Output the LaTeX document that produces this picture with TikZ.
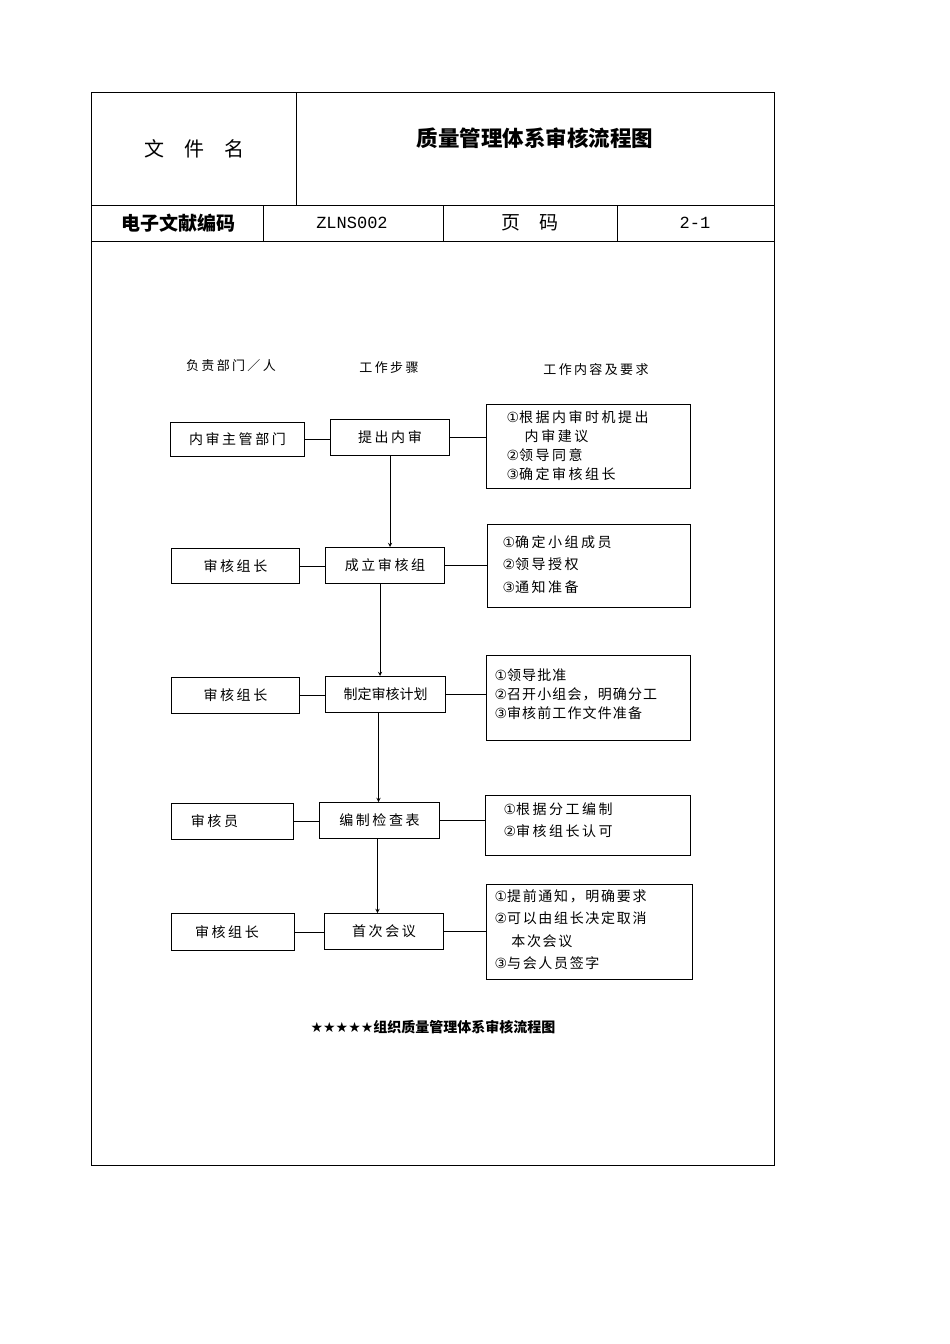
\documentclass[tikz,border=0pt]{standalone}
\usepackage{fontspec}
\setmainfont{Noto Sans CJK SC}
\newfontfamily\djv{DejaVu Sans}
\newfontfamily\lser{Liberation Mono}
\newfontfamily\cjksp[LetterSpace=18]{Noto Sans CJK SC}
\begin{document}
\begin{tikzpicture}[x=1pt,y=-1pt,
  bx/.style={draw,line width=1pt,anchor=north west,inner sep=0pt},
  ln/.style={line width=0.9pt},
  tx/.style={font=\fontsize{14}{16}\selectfont\cjksp},
  lst/.style={font=\fontsize{14}{19}\selectfont\cjksp,align=left,anchor=north west}]
\useasboundingbox (0,0) rectangle (950,1344);
% header table
\draw[line width=0.8pt] (91,92) rectangle (774,1165);
\draw[line width=0.8pt] (296,92) -- (296,205) (91,205) -- (774,205) (91,241) -- (774,241)
  (263,205) -- (263,241) (443,205) -- (443,241) (617,205) -- (617,241);
\node[font=\fontsize{20}{22}\selectfont] (h1) at (194,149) {文\hspace{1em}件\hspace{1em}名};
\node[font=\fontsize{21.5}{24}\selectfont\bfseries] (h2) at (535,138) {质量管理体系审核流程图};
\node[font=\fontsize{19}{22}\selectfont\bfseries] (h3) at (178,223) {电子文献编码};
\node[font=\fontsize{17}{20}\selectfont\lser] (h4) at (352,223) {ZLNS002};
\node[font=\fontsize{19}{22}\selectfont] (h5) at (530,223) {页\hspace{1em}码};
\node[font=\fontsize{17}{20}\selectfont\lser] (h6) at (695,223) {2-1};
% column headers
\node[font=\fontsize{13}{15}\selectfont\cjksp] (c1) at (231,366) {负责部门／人};
\node[font=\fontsize{13}{15}\selectfont\cjksp] (c2) at (389,368) {工作步骤};
\node[font=\fontsize{13}{15}\selectfont\cjksp] (c3) at (596,370) {工作内容及要求};
% boxes
\node[bx,minimum width=134,minimum height=34] (l1) at (170,422) {};
\node[tx] at (l1.center) {内审主管部门};
\node[bx,minimum width=119,minimum height=36] (s1) at (330,419) {};
\node[tx] at (s1.center) {提出内审};
\node[bx,minimum width=204,minimum height=84] (r1) at (486,404) {};
\node[lst] at (503,407) {{\djv ①}根据内审时机提出\\\hspace{1.3em}内审建议\\{\djv ②}领导同意\\{\djv ③}确定审核组长};

\node[bx,minimum width=128,minimum height=35] (l2) at (171,548) {};
\node[tx] at (l2.center) {审核组长};
\node[bx,minimum width=119,minimum height=36] (s2) at (325,547) {};
\node[tx] at (s2.center) {成立审核组};
\node[bx,minimum width=203,minimum height=83] (r2) at (487,524) {};
\node[lst,font=\fontsize{14}{22.5}\selectfont\cjksp] at (499,532) {{\djv ①}确定小组成员\\{\djv ②}领导授权\\{\djv ③}通知准备};

\node[bx,minimum width=128,minimum height=36] (l3) at (171,677) {};
\node[tx] at (l3.center) {审核组长};
\node[bx,minimum width=120,minimum height=36] (s3) at (325,676) {};
\node[font=\fontsize{14}{16}\selectfont] at (s3.center) {制定审核计划};
\node[bx,minimum width=204,minimum height=85] (r3) at (486,655) {};
\node[lst,font=\fontsize{14}{19}\selectfont\addfontfeature{LetterSpace=8}] at (491,665) {{\djv ①}领导批准\\{\djv ②}召开小组会，明确分工\\{\djv ③}审核前工作文件准备};

\node[bx,minimum width=122,minimum height=36] (l4) at (171,803) {};
\node[tx] at ([xshift=-18pt]l4.center) {审核员};
\node[bx,minimum width=120,minimum height=36] (s4) at (319,802) {};
\node[tx] at (s4.center) {编制检查表};
\node[bx,minimum width=205,minimum height=60] (r4) at (485,795) {};
\node[lst,font=\fontsize{14}{22.5}\selectfont\cjksp] at (500,799) {{\djv ①}根据分工编制\\{\djv ②}审核组长认可};

\node[bx,minimum width=123,minimum height=37] (l5) at (171,913) {};
\node[tx] at ([xshift=-6pt]l5.center) {审核组长};
\node[bx,minimum width=119,minimum height=36] (s5) at (324,913) {};
\node[tx] at (s5.center) {首次会议};
\node[bx,minimum width=206,minimum height=95] (r5) at (486,884) {};
\node[lst,font=\fontsize{14}{22.5}\selectfont\addfontfeature{LetterSpace=12}] at (491,886) {{\djv ①}提前通知，明确要求\\{\djv ②}可以由组长决定取消\\\hspace{1.2em}本次会议\\{\djv ③}与会人员签字};
% connectors
\foreach \i in {1,...,5}{
  \draw[ln] (l\i.east) -- (l\i.east -| s\i.west);
  \draw[ln] (s\i.east) -- (s\i.east -| r\i.west);
}
\draw[ln,-stealth] (s1.south) -- (s1.south |- s2.north);
\draw[ln,-stealth] ([xshift=-5pt]s2.south) -- ([xshift=-5pt]s2.south |- s3.north);
\draw[ln,-stealth] ([xshift=-7pt]s3.south) -- ([xshift=-7pt]s3.south |- s4.north);
\draw[ln,-stealth] ([xshift=-2pt]s4.south) -- ([xshift=-2pt]s4.south |- s5.north);
\node[font=\fontsize{14}{16}\selectfont\bfseries] (cap) at (433,1027) {{\djv ★★★★★}组织质量管理体系审核流程图};
\end{tikzpicture}
\end{document}
